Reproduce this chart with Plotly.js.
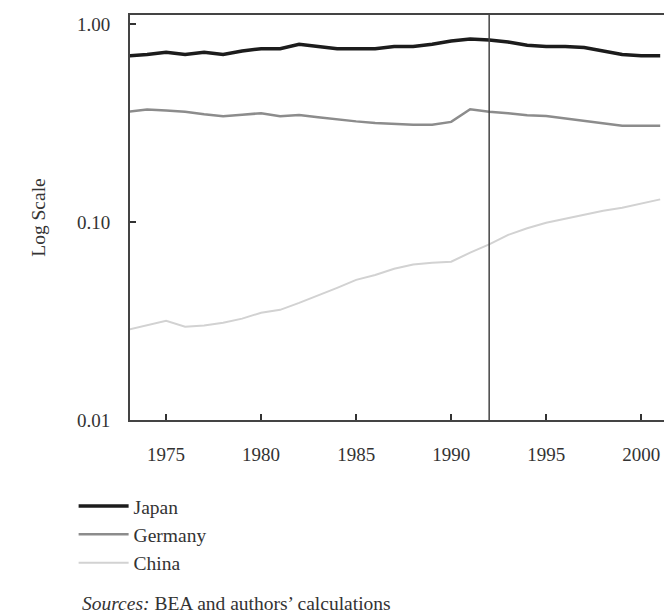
<!DOCTYPE html>
<html>
<head>
<meta charset="utf-8">
<script src="https://cdn.plot.ly/plotly-3.0.1.min.js"></script>
<style>html,body{margin:0;padding:0;background:#fff;overflow:hidden;}</style>
</head>
<body>
<div id="chart" style="width:664px;height:614px;"></div>
<script>
const years = [1973,1974,1975,1976,1977,1978,1979,1980,1981,1982,1983,1984,1985,1986,1987,1988,1989,1990,1991,1992,1993,1994,1995,1996,1997,1998,1999,2000,2001];
const japan = [0.69,0.70,0.72,0.70,0.72,0.70,0.73,0.75,0.75,0.79,0.77,0.75,0.75,0.75,0.77,0.77,0.79,0.82,0.84,0.83,0.81,0.78,0.77,0.77,0.76,0.73,0.70,0.69,0.69];
const germany = [0.36,0.37,0.365,0.36,0.35,0.342,0.348,0.354,0.342,0.347,0.338,0.329,0.322,0.316,0.312,0.31,0.31,0.32,0.371,0.36,0.354,0.346,0.343,0.333,0.322,0.314,0.306,0.306,0.306];
const china = [0.0286,0.030,0.0317,0.0296,0.030,0.031,0.0325,0.0348,0.036,0.039,0.0425,0.0465,0.051,0.054,0.058,0.061,0.0622,0.063,0.070,0.077,0.086,0.093,0.099,0.104,0.109,0.114,0.118,0.124,0.130];
const xTicks = [1975,1980,1985,1990,1995,2000];
const yTicks = [0.01,0.1,1];
const yTickText = ["0.01","0.10","1.00"];
const breakYear = 1992;

const FONT = '"Liberation Serif", "DejaVu Serif", serif';
const traces = [
  {x: years, y: japan, name: 'Japan', mode: 'lines', line: {color: '#1c1c1c', width: 3.5}},
  {x: years, y: germany, name: 'Germany', mode: 'lines', line: {color: '#8c8c8c', width: 2.5}},
  {x: years, y: china, name: 'China', mode: 'lines', line: {color: '#d2d2d2', width: 2}}
];
const layout = {
  width: 664, height: 614,
  margin: {l: 130, r: 0, t: 15, b: 194},
  paper_bgcolor: '#fff', plot_bgcolor: '#fff',
  font: {family: FONT, size: 19, color: '#333'},
  showlegend: true,
  legend: {x: -0.1056, xanchor: 'left', y: -0.165, yanchor: 'top', font: {family: FONT, size: 19.5, color: '#333'}, itemwidth: 50, bgcolor: 'rgba(0,0,0,0)', tracegroupgap: 0},
  xaxis: {
    range: [1973.1, 2001.2], tickvals: xTicks, ticks: 'inside', ticklen: 6, tickwidth: 1.5, tickcolor: '#333',
    showline: true, linewidth: 2, linecolor: '#444', mirror: true, showgrid: false, zeroline: false,
    ticklabelstandoff: 16, tickfont: {family: FONT, size: 19, color: '#333'}
  },
  yaxis: {
    type: 'log', range: [-2, 0.045], tickvals: yTicks, ticktext: yTickText, ticks: 'inside', ticklen: 6, tickwidth: 1.5, tickcolor: '#333',
    showline: true, linewidth: 2, linecolor: '#444', showgrid: false, zeroline: false,
    ticklabelstandoff: 14, tickfont: {family: FONT, size: 19, color: '#333'},
    title: {text: 'Log Scale', font: {family: FONT, size: 19.5, color: '#333'}, standoff: 26}
  },
  shapes: [
    {type: 'line', xref: 'x', yref: 'paper', x0: breakYear, x1: breakYear, y0: 0, y1: 1, line: {color: '#444', width: 1.5}}
  ],
  annotations: [
    {xref: 'paper', yref: 'paper', x: -0.0936, y: -0.452, xanchor: 'left', yanchor: 'middle', showarrow: false,
     text: '<i>Sources:</i> BEA and authors’ calculations', font: {family: FONT, size: 19.5, color: '#333'}}
  ]
};
Plotly.newPlot('chart', traces, layout, {displayModeBar: false, staticPlot: true});
</script>
</body>
</html>
